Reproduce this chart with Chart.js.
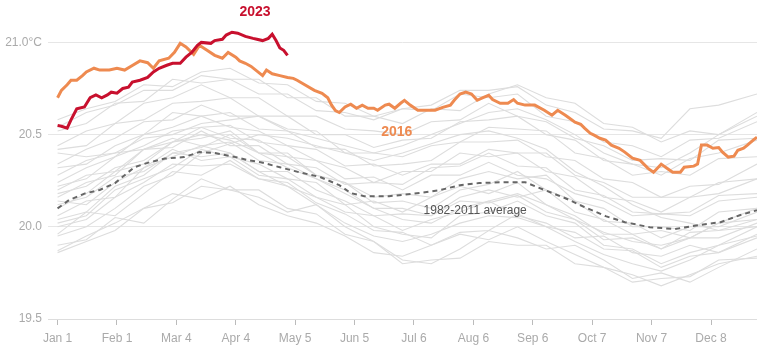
<!DOCTYPE html>
<html>
<head>
<meta charset="utf-8">
<script src="https://cdn.jsdelivr.net/npm/chart.js@4"></script>
<style>
  html, body { margin: 0; padding: 0; background: #fff; }
</style>
</head>
<body>
<canvas id="sstChart" width="757" height="363"></canvas>
<script>
// x axis: day of year (Jan 1 = 0)
const tickDays = [0, 31, 62, 93, 124, 155, 186, 217, 248, 279, 310, 341];
const tickLabels = ["Jan 1", "Feb 1", "Mar 4", "Apr 4", "May 5", "Jun 5", "Jul 6", "Aug 6", "Sep 6", "Oct 7", "Nov 7", "Dec 8"];
const yTicks = [19.5, 20.0, 20.5, 21.0];

// 2023
const days2023 = [0, 2, 5, 7, 10, 14, 17, 20, 23, 26, 28, 31, 34, 37, 39, 43, 47, 50, 53, 57, 60, 64, 67, 70, 73, 75, 80, 82, 86, 88, 91, 94, 98, 102, 104, 107, 110, 112, 114, 116, 118, 120];
const temps2023 = [20.55, 20.545, 20.535, 20.58, 20.64, 20.65, 20.70, 20.715, 20.70, 20.715, 20.73, 20.725, 20.75, 20.757, 20.785, 20.795, 20.81, 20.84, 20.86, 20.876, 20.887, 20.887, 20.92, 20.946, 20.984, 21.0, 20.995, 21.01, 21.017, 21.04, 21.055, 21.05, 21.033, 21.022, 21.017, 21.01, 21.022, 21.044, 21.01, 20.97, 20.957, 20.93];

// 2016
const days2016 = [0, 2, 5, 7, 10, 13, 15, 19, 22, 27, 31, 35, 39, 43, 47, 50, 53, 58, 61, 64, 67, 71, 74, 78, 82, 86, 89, 93, 95, 98, 101, 107, 109, 112, 116, 120, 123, 125, 129, 134, 138, 141, 143, 145, 147, 150, 153, 156, 159, 162, 165, 167, 171, 173, 176, 179, 181, 184, 188, 192, 197, 201, 205, 207, 210, 213, 216, 219, 222, 225, 227, 231, 235, 238, 240, 244, 249, 254, 258, 261, 265, 267, 270, 273, 275, 278, 280, 283, 286, 289, 293, 296, 300, 304, 308, 311, 313, 315, 318, 321, 325, 327, 332, 334, 336, 339, 342, 345, 347, 350, 353, 355, 358, 360, 363, 365];
const temps2016 = [20.70, 20.74, 20.77, 20.795, 20.795, 20.82, 20.84, 20.86, 20.85, 20.85, 20.86, 20.85, 20.875, 20.90, 20.89, 20.86, 20.90, 20.914, 20.946, 20.995, 20.975, 20.935, 20.984, 20.957, 20.93, 20.914, 20.946, 20.92, 20.90, 20.887, 20.87, 20.82, 20.85, 20.83, 20.82, 20.81, 20.805, 20.795, 20.77, 20.74, 20.724, 20.70, 20.66, 20.63, 20.62, 20.65, 20.665, 20.643, 20.66, 20.643, 20.643, 20.632, 20.66, 20.665, 20.643, 20.67, 20.686, 20.66, 20.632, 20.632, 20.632, 20.648, 20.66, 20.686, 20.72, 20.73, 20.72, 20.686, 20.70, 20.713, 20.69, 20.67, 20.67, 20.69, 20.67, 20.66, 20.66, 20.632, 20.605, 20.632, 20.605, 20.59, 20.567, 20.556, 20.535, 20.507, 20.497, 20.48, 20.47, 20.443, 20.426, 20.405, 20.372, 20.36, 20.318, 20.296, 20.318, 20.34, 20.318, 20.296, 20.296, 20.323, 20.329, 20.34, 20.443, 20.443, 20.426, 20.43, 20.405, 20.378, 20.383, 20.415, 20.426, 20.443, 20.47, 20.486];

// 1982-2011 average
const daysAvg = [0, 6, 14, 22, 30, 35, 40, 48, 56, 66, 74, 82, 93, 100, 106, 116, 126, 137, 147, 153, 160, 173, 189, 200, 210, 220, 233, 244, 254, 265, 275, 286, 296, 309, 322, 335, 346, 356, 365];
const tempsAvg = [20.10, 20.145, 20.18, 20.20, 20.237, 20.28, 20.323, 20.35, 20.37, 20.378, 20.405, 20.40, 20.378, 20.36, 20.35, 20.323, 20.296, 20.27, 20.226, 20.183, 20.166, 20.166, 20.183, 20.20, 20.226, 20.237, 20.242, 20.242, 20.20, 20.155, 20.107, 20.058, 20.025, 19.998, 19.988, 20.01, 20.025, 20.063, 20.09];

// other years (grey)
const greyDays = [0, 15, 30, 45, 60, 75, 90, 105, 120, 135, 150, 165, 180, 195, 210, 225, 240, 255, 270, 285, 300, 315, 330, 345, 365];
const greyYears = [
  [19.87, 19.95, 20.02, 20.10, 20.18, 20.15, 20.22, 20.12, 20.06, 20.02, 19.95, 19.86, 19.84, 19.90, 19.96, 19.93, 20.00, 19.92, 19.85, 19.78, 19.74, 19.68, 19.74, 19.80, 19.84],
  [19.90, 19.93, 20.05, 20.02, 20.15, 20.26, 20.20, 20.16, 20.08, 20.12, 20.00, 19.92, 19.82, 19.80, 19.88, 19.98, 19.94, 19.88, 19.90, 19.82, 19.72, 19.75, 19.70, 19.78, 19.88],
  [19.96, 20.08, 20.06, 20.18, 20.30, 20.28, 20.36, 20.26, 20.22, 20.16, 20.08, 20.06, 19.98, 20.04, 20.08, 20.14, 20.06, 20.02, 19.94, 19.95, 19.86, 19.84, 19.90, 19.86, 19.96],
  [20.02, 20.06, 20.20, 20.26, 20.32, 20.42, 20.38, 20.34, 20.26, 20.24, 20.12, 20.14, 20.08, 20.16, 20.22, 20.18, 20.24, 20.12, 20.06, 19.96, 19.96, 19.88, 19.94, 19.94, 20.02],
  [20.06, 20.14, 20.16, 20.32, 20.38, 20.44, 20.46, 20.36, 20.34, 20.26, 20.20, 20.10, 20.10, 20.06, 20.16, 20.20, 20.16, 20.20, 20.08, 20.04, 19.96, 19.98, 19.94, 20.02, 20.04],
  [20.10, 20.18, 20.30, 20.34, 20.46, 20.48, 20.52, 20.40, 20.38, 20.28, 20.24, 20.16, 20.18, 20.16, 20.26, 20.30, 20.26, 20.28, 20.14, 20.10, 20.00, 20.00, 19.98, 20.08, 20.10],
  [20.14, 20.12, 20.24, 20.32, 20.42, 20.36, 20.38, 20.28, 20.26, 20.16, 20.12, 20.00, 19.96, 19.94, 20.06, 20.08, 20.14, 20.06, 20.02, 19.90, 19.88, 19.80, 19.86, 19.90, 20.00],
  [20.16, 20.24, 20.28, 20.42, 20.46, 20.54, 20.48, 20.47, 20.38, 20.36, 20.26, 20.27, 20.20, 20.28, 20.28, 20.35, 20.28, 20.26, 20.18, 20.14, 20.06, 20.07, 20.06, 20.14, 20.16],
  [20.22, 20.26, 20.38, 20.44, 20.52, 20.54, 20.55, 20.46, 20.44, 20.36, 20.32, 20.24, 20.30, 20.30, 20.40, 20.38, 20.40, 20.30, 20.27, 20.16, 20.14, 20.08, 20.16, 20.18, 20.26],
  [20.24, 20.32, 20.38, 20.50, 20.54, 20.60, 20.54, 20.52, 20.44, 20.42, 20.33, 20.34, 20.28, 20.34, 20.34, 20.42, 20.40, 20.40, 20.28, 20.24, 20.16, 20.16, 20.16, 20.24, 20.26],
  [20.32, 20.34, 20.44, 20.50, 20.62, 20.60, 20.62, 20.53, 20.52, 20.43, 20.42, 20.33, 20.34, 20.36, 20.46, 20.46, 20.47, 20.38, 20.36, 20.26, 20.24, 20.16, 20.22, 20.23, 20.34],
  [20.34, 20.42, 20.48, 20.57, 20.58, 20.66, 20.60, 20.60, 20.53, 20.52, 20.40, 20.40, 20.38, 20.44, 20.46, 20.54, 20.53, 20.52, 20.40, 20.37, 20.28, 20.30, 20.28, 20.37, 20.38],
  [20.42, 20.44, 20.56, 20.58, 20.67, 20.68, 20.70, 20.60, 20.60, 20.50, 20.50, 20.43, 20.47, 20.48, 20.57, 20.58, 20.60, 20.50, 20.47, 20.36, 20.34, 20.28, 20.37, 20.40, 20.47],
  [20.44, 20.52, 20.56, 20.67, 20.70, 20.77, 20.70, 20.70, 20.60, 20.60, 20.53, 20.52, 20.50, 20.57, 20.58, 20.67, 20.60, 20.57, 20.48, 20.44, 20.36, 20.37, 20.36, 20.47, 20.48],
  [20.52, 20.56, 20.67, 20.68, 20.80, 20.78, 20.80, 20.72, 20.72, 20.63, 20.62, 20.58, 20.64, 20.63, 20.72, 20.70, 20.72, 20.60, 20.57, 20.46, 20.44, 20.38, 20.47, 20.48, 20.57],
  [20.54, 20.62, 20.66, 20.74, 20.74, 20.82, 20.80, 20.80, 20.70, 20.70, 20.60, 20.60, 20.56, 20.64, 20.63, 20.72, 20.77, 20.70, 20.67, 20.56, 20.54, 20.46, 20.52, 20.50, 20.60],
  [20.58, 20.64, 20.68, 20.77, 20.76, 20.84, 20.86, 20.78, 20.77, 20.68, 20.67, 20.60, 20.64, 20.66, 20.74, 20.74, 20.76, 20.66, 20.62, 20.53, 20.52, 20.48, 20.64, 20.66, 20.72],
  [20.00, 20.04, 20.16, 20.24, 20.34, 20.33, 20.34, 20.26, 20.24, 20.13, 20.07, 19.98, 19.97, 19.90, 19.97, 19.98, 20.07, 20.00, 19.97, 19.88, 19.87, 19.78, 19.84, 19.86, 19.94],
  [19.86, 19.92, 19.98, 20.10, 20.13, 20.22, 20.20, 20.20, 20.10, 20.07, 19.96, 19.92, 19.80, 19.82, 19.83, 19.92, 19.90, 19.90, 19.80, 19.78, 19.70, 19.72, 19.73, 19.82, 19.83],
  [20.12, 20.16, 20.27, 20.30, 20.40, 20.43, 20.50, 20.40, 20.40, 20.28, 20.24, 20.13, 20.14, 20.10, 20.20, 20.23, 20.30, 20.20, 20.14, 20.03, 20.02, 19.94, 20.00, 20.00, 20.08],
  [20.20, 20.28, 20.30, 20.42, 20.43, 20.52, 20.44, 20.44, 20.34, 20.32, 20.23, 20.24, 20.23, 20.32, 20.33, 20.40, 20.33, 20.32, 20.20, 20.17, 20.08, 20.07, 20.08, 20.17, 20.18],
  [20.04, 20.08, 20.22, 20.28, 20.40, 20.38, 20.40, 20.30, 20.30, 20.20, 20.14, 20.06, 20.07, 20.06, 20.14, 20.13, 20.17, 20.08, 20.04, 19.93, 19.94, 19.88, 19.97, 19.98, 20.04],
  [19.95, 20.00, 20.10, 20.22, 20.28, 20.40, 20.45, 20.50, 20.48, 20.44, 20.40, 20.36, 20.40, 20.45, 20.50, 20.52, 20.48, 20.42, 20.30, 20.22, 20.12, 20.05, 20.02, 19.98, 20.00],
  [20.40, 20.38, 20.40, 20.42, 20.48, 20.44, 20.40, 20.30, 20.22, 20.12, 20.02, 19.95, 19.92, 19.96, 20.02, 20.06, 20.05, 20.00, 19.92, 19.85, 19.80, 19.76, 19.82, 19.90, 19.95],
  [20.28, 20.36, 20.40, 20.48, 20.50, 20.56, 20.58, 20.60, 20.52, 20.48, 20.44, 20.40, 20.44, 20.50, 20.56, 20.62, 20.64, 20.58, 20.50, 20.40, 20.34, 20.32, 20.40, 20.50, 20.62],
  [20.18, 20.22, 20.32, 20.36, 20.46, 20.50, 20.47, 20.40, 20.32, 20.26, 20.18, 20.10, 20.04, 20.02, 20.10, 20.14, 20.18, 20.12, 20.04, 19.97, 19.92, 19.90, 19.94, 20.02, 20.10]
];

// text labels placed in data coordinates
const seriesLabels = [
  { text: "2023", day: 103, temp: 21.165, color: "#c8102e", font: "bold 14px 'Liberation Sans', Arial, sans-serif", align: "center" },
  { text: "2016", day: 177, temp: 20.513, color: "#ee8a50", font: "bold 14px 'Liberation Sans', Arial, sans-serif", align: "center" },
  { text: "1982-2011 average", day: 191, temp: 20.09, color: "#555", font: "12px 'Liberation Sans', Arial, sans-serif", align: "left" }
];

function toPoints(days, temps) {
  return days.map((d, i) => ({ x: d, y: temps[i] }));
}

const datasets = [
  { data: toPoints(days2023, temps2023), borderColor: "#c8102e", borderWidth: 3 },
  { data: toPoints(days2016, temps2016), borderColor: "#ee8a50", borderWidth: 3 },
  { data: toPoints(daysAvg, tempsAvg), borderColor: "#666", borderWidth: 2, borderDash: [5, 4] }
];
greyYears.forEach(temps => {
  datasets.push({ data: toPoints(greyDays, temps), borderColor: "#dddddd", borderWidth: 1.1 });
});

const labelPlugin = {
  id: "seriesLabels",
  afterDatasetsDraw(chart) {
    const { ctx, scales: { x, y } } = chart;
    ctx.save();
    ctx.textBaseline = "middle";
    seriesLabels.forEach(l => {
      ctx.font = l.font;
      ctx.fillStyle = l.color;
      ctx.textAlign = l.align;
      ctx.fillText(l.text, x.getPixelForValue(l.day), y.getPixelForValue(l.temp));
    });
    ctx.restore();
  }
};

function noPadding(s) {
  s.paddingTop = 0;
  s.paddingBottom = 0;
  s.paddingLeft = 0;
  s.paddingRight = 0;
}

Chart.defaults.font.family = "'Liberation Sans', Arial, sans-serif";
Chart.defaults.font.size = 12;

new Chart(document.getElementById("sstChart"), {
  type: "line",
  data: { datasets },
  options: {
    responsive: false,
    animation: false,
    events: [],
    layout: { padding: 0 },
    elements: { point: { radius: 0 }, line: { tension: 0, fill: false } },
    plugins: { legend: { display: false }, tooltip: { enabled: false } },
    scales: {
      x: {
        type: "linear",
        min: -5,
        max: 365,
        afterFit: s => { s.height = 44; noPadding(s); },
        afterBuildTicks: s => { s.ticks = tickDays.map(v => ({ value: v })); },
        grid: { drawOnChartArea: false, drawTicks: true, tickLength: 6, color: "#bbb" },
        border: { color: "#ddd" },
        ticks: {
          autoSkip: false,
          maxRotation: 0,
          padding: 6,
          color: "#aaa",
          callback: v => tickLabels[tickDays.indexOf(v)]
        }
      },
      y: {
        min: 19.5,
        max: 21.23,
        afterFit: s => { s.width = 48; noPadding(s); },
        afterBuildTicks: s => { s.ticks = yTicks.map(v => ({ value: v })); },
        grid: { drawTicks: false, color: "#e6e6e6" },
        border: { display: false },
        ticks: {
          padding: 6,
          color: "#aaa",
          callback: v => v === 21 ? "21.0°C" : v.toFixed(1)
        }
      }
    }
  },
  plugins: [labelPlugin]
});
</script>
</body>
</html>
